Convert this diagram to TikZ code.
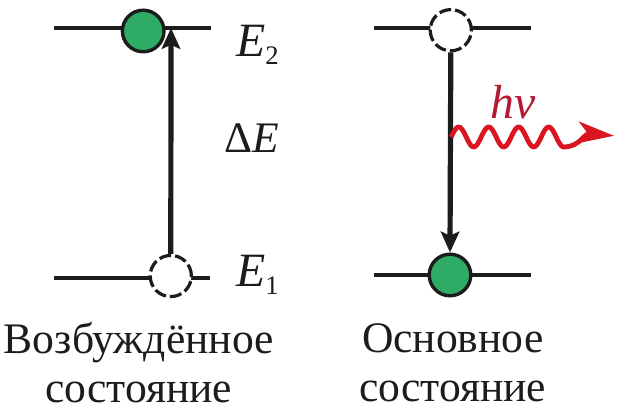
\documentclass[tikz,border=0pt]{standalone}
\usepackage{fontspec}
\setmainfont{Liberation Serif}
\usetikzlibrary{arrows.meta}
\definecolor{inkblack}{RGB}{28,28,28}
\definecolor{electrongreen}{RGB}{46,172,102}
\definecolor{photonred}{RGB}{218,20,32}
\definecolor{labelred}{RGB}{180,25,50}
\begin{document}
\begin{tikzpicture}[
    level/.style={draw=inkblack, line width=1.15mm},
    electron/.style={circle, draw=inkblack, line width=0.85mm, fill=electrongreen, minimum size=1.04cm, inner sep=0pt},
    vacancy/.style={circle, draw=inkblack, line width=0.8mm, dash pattern=on 3mm off 1mm, fill=white, minimum size=1.03cm, inner sep=0pt},
    transition/.style={draw=inkblack, line width=1.3mm, -{Stealth[length=5.2mm, width=4.6mm, inset=1mm]}},
    energy/.style={font=\fontsize{34}{34}\selectfont, text=inkblack, inner sep=0pt},
    caption/.style={font=\fontsize{31}{34.7}\selectfont, text=inkblack, align=center, inner sep=0pt},
    photon/.style={draw=photonred, line width=1.2mm, line join=round, -{Stealth[length=9mm, width=5.4mm, inset=2.4mm]}}
]
    \useasboundingbox (0,0) rectangle (15.575,10.375);

    % Left levels
    \coordinate (la) at (1.35,9.675);
    \coordinate (lb) at (5.28,9.675);
    \coordinate (lc) at (1.35,3.425);
    \coordinate (ld) at (5.25,3.425);
    \coordinate (ltip) at (4.275,9.675);
    \draw[level] (la) -- (lb);
    \draw[level] (lc) -- (ld);
    \node[electron] (upperfull) at (3.58,9.6) {};
    \node[vacancy] (lowerempty) at (4.27,3.475) {};
    \draw[transition] (lowerempty.north) -- (ltip);

    % Right levels
    \coordinate (ra) at (9.35,9.675);
    \coordinate (rb) at (13.28,9.675);
    \coordinate (rc) at (9.35,3.5);
    \coordinate (rd) at (13.28,3.5);
    \draw[level] (ra) -- (rb);
    \draw[level] (rc) -- (rd);
    \node[vacancy] (upperempty) at (11.27,9.62) {};
    \node[electron] (lowerfull) at (11.25,3.5) {};
    \draw[transition] (upperempty.south) -- (lowerfull.north);

    % Photon
    \coordinate (wavec) at (15.35,6.98);
    \draw[photon] plot[domain=0:3.75, samples=90, smooth] ({11.28+\x*0.75},{6.95+0.25*sin(360*\x)})
        .. controls (14.5,6.7) and (14.6,7.05) .. (wavec);

    % Labels
    \node[energy, anchor=base west] (etwo) at (5.9,8.95) {\textit{E}\raisebox{-2mm}{\fontsize{19}{19}\selectfont 2}};
    \node[energy, anchor=base west, font=\fontsize{31}{31}\selectfont] (delta) at (5.6,6.55) {Δ\textit{E}};
    \node[energy, anchor=base west] (eone) at (5.9,3.22) {\textit{E}\raisebox{-2mm}{\fontsize{19}{19}\selectfont 1}};
    \node[text=labelred, font=\fontsize{34}{34}\selectfont\itshape, inner sep=0pt, anchor=base] (quantum) at (12.83,7.4) {hv};

    \node[caption] (leftcap) at (3.47,1.3) {Возбуждённое\\состояние};
    \node[caption] (rightcap) at (11.32,1.3) {Основное\\состояние};
\end{tikzpicture}
\end{document}
